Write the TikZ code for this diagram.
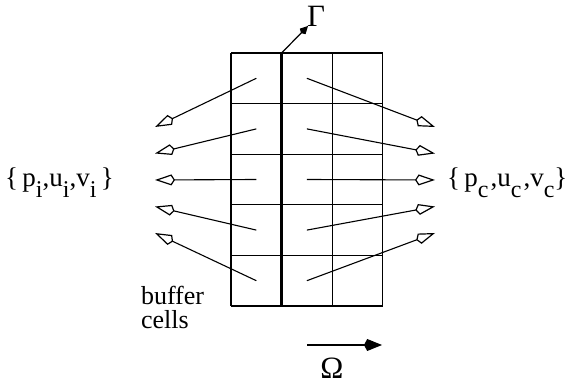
\documentclass[tikz,border=0pt]{standalone}
\usepackage{fontspec}
\setmainfont{Liberation Serif}
\usetikzlibrary{arrows.meta}
\newcommand{\lowidx}[1]{\raisebox{-.38em}{\fontsize{12}{12}\selectfont #1}}

\begin{document}
\begin{tikzpicture}[x=.5pt,y=-.5pt,
  cellline/.style={draw=black,line width=0.55pt},
  iface/.style={draw=black,line width=1.8pt},
  flux/.style={draw=black,line width=0.55pt,-{Kite[open,length=10pt,width=5.5pt,inset=1.8pt,line width=0.6pt]}},
  dirarrow/.style={draw=black,line width=0.6pt,-{Kite[length=9pt,width=6pt,inset=1.6pt]}},
  lbl/.style={inner sep=0pt,outer sep=0pt,font=\fontsize{13}{12}\selectfont},
  greek/.style={inner sep=0pt,outer sep=0pt,font=\fontsize{15.5}{18}\selectfont}]
\path[use as bounding box] (0,0) rectangle (572,383);
\path[fill=white,draw=none] (0,0) rectangle (572,383);
% cells
\foreach \i in {0,...,3} \draw[cellline] ({231+50.6*\i},53) -- ({231+50.6*\i},306);
\foreach \j in {0,...,5} \draw[cellline] (231,{53+50.6*\j}) -- (382.8,{53+50.6*\j});
% interface Gamma
\coordinate (gtop) at (281.6,53);
\coordinate (gbot) at (281.6,306);
\draw[iface] (gtop) -- (gbot);
\node[greek,anchor=base] (gamma) at (316,27) {Γ};
\coordinate (gtip) at (308,26);
\draw[line width=0.6pt,-{Kite[length=5pt,width=4pt,inset=1.2pt]}] (gtop) -- (gtip);
% values passed between the two sides
\foreach \j/\ty in {0/127,1/153.5,2/180,3/206.5,4/233}{
  \coordinate (ci\j) at (256.3,{78.3+50.6*\j});
  \coordinate (ti\j) at (155,\ty);
  \draw[flux] (ci\j) -- (ti\j);
  \coordinate (cc\j) at (306.9,{78.3+50.6*\j});
  \coordinate (tc\j) at (435,\ty);
  \draw[flux] (cc\j) -- (tc\j);
}
\node[lbl,anchor=base west,font=\fontsize{13.5}{14}\selectfont] (setint) at (5,187) {\{\,p\lowidx{i},u\lowidx{i},v\lowidx{i}\,\}};
\node[lbl,anchor=base west,font=\fontsize{13.5}{14}\selectfont] (setcut) at (447,187) {\{\,p\lowidx{c}\kern1pt,u\lowidx{c}\kern1pt,v\lowidx{c}\}};
\node[lbl,anchor=base west,align=left] (buffer) at (141,329) {buffer\\cells};
% domain direction Omega
\coordinate (oa) at (307,345);
\coordinate (ob) at (382,345);
\draw[dirarrow] (oa) -- (ob);
\node[greek,anchor=base] (omega) at (332,378.5) {Ω};
\end{tikzpicture}
\end{document}
